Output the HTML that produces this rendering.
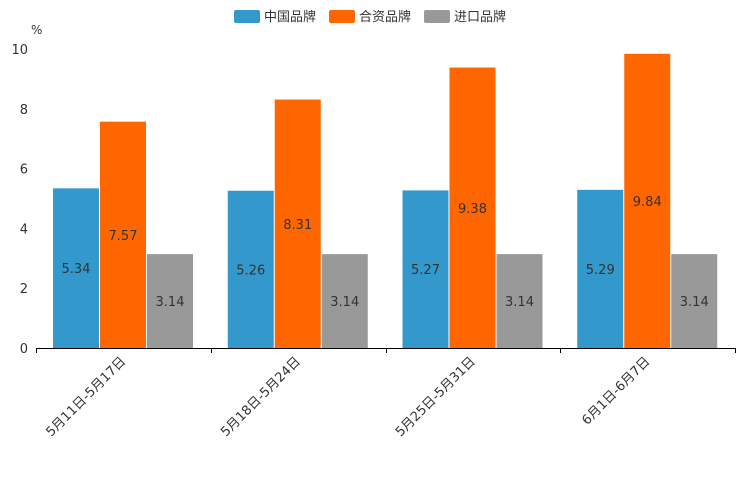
<!DOCTYPE html>
<html><head><meta charset="utf-8"><style>
body{margin:0;background:#fff}
svg text{font-family:"DejaVu Sans","Noto Sans CJK SC",sans-serif;}
</style></head><body>
<svg id="chart" width="744" height="496" xmlns="http://www.w3.org/2000/svg"></svg>
<script>
const categories = ["5月11日-5月17日","5月18日-5月24日","5月25日-5月31日","6月1日-6月7日"];
const seriesNames = ["中国品牌","合资品牌","进口品牌"];
const domestic = [5.34,5.26,5.27,5.29];
const joint = [7.57,8.31,9.38,9.84];
const imported = [3.14,3.14,3.14,3.14];
const yTicks = [0,2,4,6,8,10];
const colors = ["#3399cc","#ff6600","#999999"];
const series = [domestic, joint, imported];

const svg = document.getElementById('chart');
const NS = "http://www.w3.org/2000/svg";
const x0 = 36, x1 = 735, yBase = 348, yTop = 49, yMax = 10;
const groupW = (x1 - x0) / categories.length;
const y = v => yBase - v / yMax * (yBase - yTop);
const barW = 46, barGap = 1, groupPad = 17;
const bx = (g, s) => x0 + g * groupW + groupPad + s * (barW + barGap);
function el(tag, attrs, txt){
  const e = document.createElementNS(NS, tag);
  for (const k in attrs) e.setAttribute(k, attrs[k]);
  if (txt !== undefined) e.textContent = txt;
  svg.appendChild(e);
  return e;
}
const legX = [234, 329, 424];
seriesNames.forEach((n, i) => {
  const r = el('rect', {x: legX[i], y: 10, width: 26, height: 13, rx: 2, fill: colors[i]});
  
  
  const t = el('text', {x: legX[i] + 30, y: 21, 'font-size': 13, fill: '#333'}, n);
  
  
});
const u = el('text', {x: 31, y: 34, 'font-size': 12, fill: '#333'}, '%');


yTicks.forEach(v => {
  const t = el('text', {x: 28, y: y(v) + 5, 'font-size': 13, fill: '#333', 'text-anchor': 'end'}, String(v));
  
  
});
categories.forEach((c, g) => {
  series.forEach((s, si) => {
    const v = s[g];
    const r = el('rect', {x: bx(g, si), y: y(v), width: barW, height: yBase - y(v), fill: colors[si]});
    
    
    const t = el('text', {x: bx(g, si) + barW / 2, y: (y(v) + yBase) / 2 + 5, 'font-size': 13, fill: '#333', 'text-anchor': 'middle'}, v.toFixed(2));
    
    
  });
  const cx = x0 + g * groupW + groupW / 2;
  const lx = cx + 3, ly = 362;
  const t = el('text', {x: lx, y: ly, 'font-size': 13, fill: '#333', 'text-anchor': 'end', transform: 'rotate(-45 ' + lx + ' ' + ly + ')'}, c);
  
  
});
const ax = el('line', {x1: x0, y1: yBase + 0.5, x2: x1, y2: yBase + 0.5, stroke: '#000', 'stroke-width': 1});


for (let i = 0; i <= categories.length; i++) {
  const tx = Math.round(x0 + i * groupW) + 0.5;
  const tk = el('line', {x1: tx, y1: yBase, x2: tx, y2: yBase + 5, stroke: '#000', 'stroke-width': 1});
  
  
}
</script>
</body></html>
